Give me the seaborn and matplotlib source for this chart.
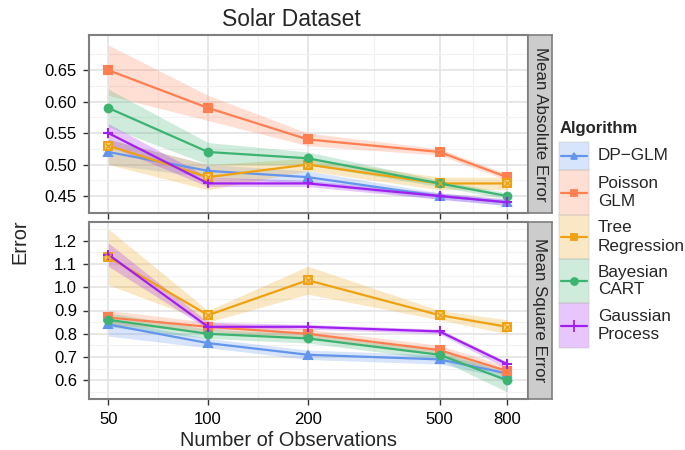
import numpy as np
import pandas as pd
import seaborn as sns
import matplotlib.pyplot as plt
from matplotlib.patches import Rectangle
from matplotlib.lines import Line2D
from matplotlib.ticker import FixedLocator, NullFormatter

# Dados
n_obs = [50, 100, 200, 500, 800]
algorithms = ['DP-GLM', 'Poisson GLM', 'Tree Regression', 'Bayesian CART', 'Gaussian Process']
legend_labels = ['DP\u2212GLM', 'Poisson\nGLM', 'Tree\nRegression', 'Bayesian\nCART', 'Gaussian\nProcess']
colors = ['#6495ED', '#FF7F50', '#EEA111', '#3CB371', '#A020F0']
markers = ['^', 's', 's', 'o', '+']

# Mean Absolute Error
mae_dp = [0.52, 0.49, 0.48, 0.45, 0.44]
mae_pois = [0.65, 0.59, 0.54, 0.52, 0.48]
mae_tree = [0.53, 0.48, 0.50, 0.47, 0.47]
mae_cart = [0.59, 0.52, 0.51, 0.47, 0.45]
mae_gp = [0.55, 0.47, 0.47, 0.45, 0.44]

mae_dp_lo = [0.50, 0.48, 0.47, 0.445, 0.435]
mae_dp_hi = [0.54, 0.50, 0.49, 0.455, 0.445]
mae_pois_lo = [0.61, 0.57, 0.53, 0.515, 0.475]
mae_pois_hi = [0.69, 0.61, 0.55, 0.525, 0.485]
mae_tree_lo = [0.50, 0.46, 0.49, 0.46, 0.46]
mae_tree_hi = [0.54, 0.50, 0.51, 0.48, 0.48]
mae_cart_lo = [0.56, 0.50, 0.50, 0.465, 0.445]
mae_cart_hi = [0.62, 0.535, 0.52, 0.475, 0.455]
mae_gp_lo = [0.53, 0.465, 0.465, 0.445, 0.435]
mae_gp_hi = [0.565, 0.48, 0.475, 0.455, 0.445]

# Mean Square Error
mse_dp = [0.84, 0.76, 0.71, 0.69, 0.63]
mse_pois = [0.87, 0.83, 0.80, 0.73, 0.64]
mse_tree = [1.13, 0.88, 1.03, 0.88, 0.83]
mse_cart = [0.86, 0.80, 0.78, 0.71, 0.60]
mse_gp = [1.14, 0.83, 0.83, 0.81, 0.67]

mse_dp_lo = [0.79, 0.74, 0.69, 0.67, 0.61]
mse_dp_hi = [0.86, 0.78, 0.73, 0.71, 0.65]
mse_pois_lo = [0.84, 0.81, 0.78, 0.71, 0.62]
mse_pois_hi = [0.90, 0.85, 0.82, 0.75, 0.66]
mse_tree_lo = [1.01, 0.85, 0.97, 0.86, 0.80]
mse_tree_hi = [1.25, 0.90, 1.09, 0.90, 0.86]
mse_cart_lo = [0.83, 0.78, 0.76, 0.69, 0.55]
mse_cart_hi = [0.89, 0.82, 0.80, 0.73, 0.63]
mse_gp_lo = [1.09, 0.82, 0.82, 0.80, 0.65]
mse_gp_hi = [1.19, 0.85, 0.84, 0.82, 0.68]

metrics = {
    'Mean Absolute Error': ([mae_dp, mae_pois, mae_tree, mae_cart, mae_gp],
                            [mae_dp_lo, mae_pois_lo, mae_tree_lo, mae_cart_lo, mae_gp_lo],
                            [mae_dp_hi, mae_pois_hi, mae_tree_hi, mae_cart_hi, mae_gp_hi]),
    'Mean Square Error': ([mse_dp, mse_pois, mse_tree, mse_cart, mse_gp],
                          [mse_dp_lo, mse_pois_lo, mse_tree_lo, mse_cart_lo, mse_gp_lo],
                          [mse_dp_hi, mse_pois_hi, mse_tree_hi, mse_cart_hi, mse_gp_hi]),
}

# Montar dataframe longo
rows = []
for metric, (vals, los, his) in metrics.items():
    for alg, v, lo, hi in zip(algorithms, vals, los, his):
        for n, a, b, c in zip(n_obs, v, lo, hi):
            rows.append({'Metric': metric, 'Algorithm': alg, 'N': n, 'Error': a, 'lo': b, 'hi': c})
df = pd.DataFrame(rows)

sns.set_style('white')
plt.rcParams['font.family'] = ['Liberation Sans', 'DejaVu Sans']

W, H = 685, 450
fig = plt.figure(figsize=(W / 100, H / 100), dpi=100)

def box(x0, y0, x1, y1):
    return [x0 / W, 1 - y1 / H, (x1 - x0) / W, (y1 - y0) / H]

panels = [
    ('Mean Absolute Error', box(89, 35, 528, 213), (0.423, 0.706),
     [0.45, 0.50, 0.55, 0.60, 0.65], ['0.45', '0.50', '0.55', '0.60', '0.65'], (35, 213)),
    ('Mean Square Error', box(89, 222, 528, 399), (0.52, 1.28),
     [0.6, 0.7, 0.8, 0.9, 1.0, 1.1, 1.2], ['0.6', '0.7', '0.8', '0.9', '1.0', '1.1', '1.2'], (222, 399)),
]

grid_major = '#E3E3E3'
grid_minor = '#F2F2F2'
border = '#7F7F7F'

axes = []
for metric, rect, ylim, yt, ytl, (py0, py1) in panels:
    ax = fig.add_axes(rect)
    sub = df[df['Metric'] == metric]
    for alg, col, mk in zip(algorithms, colors, markers):
        s = sub[sub['Algorithm'] == alg]
        # faixa de incerteza
        ax.fill_between(s['N'], s['lo'], s['hi'], color=col, alpha=0.25, lw=0, zorder=2)
        if alg == 'Tree Regression':
            # quadrado com X (shape 7 do ggplot)
            sns.lineplot(data=s, x='N', y='Error', color=col, marker='s', markersize=6,
                         mew=1.4, mec=col, mfc='#F6CF80', lw=1.6, ax=ax, zorder=3)
            ax.plot(s['N'], s['Error'], ls='none', marker='x', markersize=4, mew=1,
                    color=col, zorder=4)
        else:
            sns.lineplot(data=s, x='N', y='Error', color=col, marker=mk,
                         markersize=7 if mk == '+' else 5.5,
                         mew=1.5, mec=col, lw=1.6, ax=ax, zorder=3)
    ax.set_xscale('log')
    ax.set_xlim(43.7, 925)
    ax.set_ylim(*ylim)
    ax.xaxis.set_major_locator(FixedLocator(n_obs))
    ax.xaxis.set_minor_locator(FixedLocator([35.4, 70.7, 141.4, 316.2, 632.5]))
    ax.xaxis.set_minor_formatter(NullFormatter())
    ax.set_yticks(yt)
    ax.set_yticklabels(ytl)
    ystep = yt[1] - yt[0]
    ax.yaxis.set_minor_locator(FixedLocator([yt[0] - ystep / 2] + [v + ystep / 2 for v in yt]))
    ax.grid(True, which='major', color=grid_major, lw=1.2, zorder=0)
    ax.grid(True, which='minor', color=grid_minor, lw=0.8, zorder=0)
    ax.set_axisbelow(True)
    ax.tick_params(which='major', direction='out', length=4.3, width=1, color='#333333',
                   labelsize=12, labelcolor='black', left=True, bottom=True)
    ax.tick_params(axis='y', which='major', pad=4.3)
    ax.tick_params(axis='x', which='major', pad=5)
    ax.tick_params(which='minor', length=0)
    for sp in ax.spines.values():
        sp.set_color(border)
        sp.set_linewidth(1.5)
    ax.set_xlabel('')
    ax.set_ylabel('')
    ax.set_xticklabels([str(n) for n in n_obs])
    # faixa lateral (strip)
    sax = fig.add_axes(box(528, py0, 552, py1))
    sax.set_xticks([])
    sax.set_yticks([])
    sax.set_facecolor('#CCCCCC')
    for sp in sax.spines.values():
        sp.set_color(border)
        sp.set_linewidth(1.2)
    sax.text(0.5, 0.5, metric, rotation=-90, ha='center', va='center', fontsize=12.2,
             transform=sax.transAxes)
    axes.append(ax)

axes[0].tick_params(labelbottom=False)

fig.text(291 / W, 1 - 19 / H, 'Solar Dataset', ha='center', va='center', fontsize=16.5)
fig.text(289 / W, 1 - 440 / H, 'Number of Observations', ha='center', va='center', fontsize=14.4)
fig.text(20 / W, 1 - 242 / H, 'Error', ha='center', va='center', rotation=90, fontsize=14.4)

# Legenda manual
lax = fig.add_axes([0, 0, 1, 1], facecolor='none')
lax.set_xlim(0, W)
lax.set_ylim(H, 0)
lax.axis('off')
lax.text(560, 129, 'Algorithm', fontsize=12, fontweight='bold', va='center', ha='left')
key_bounds = [(142, 170), (170, 215), (215, 259), (259, 303), (303, 348)]
for (y0, y1), lab, col, mk in zip(key_bounds, legend_labels, colors, markers):
    lax.add_patch(Rectangle((559, y0), 30, y1 - y0, facecolor=col, alpha=0.25,
                            edgecolor='#BBBBBB', lw=1.2))
    ym = (y0 + y1) / 2
    lax.add_line(Line2D([561, 587], [ym, ym], color=col, lw=1.6))
    lax.plot([574], [ym], marker=mk, color=col, markersize=8 if mk == '+' else 5, mew=1.3)
    lax.text(598, ym, lab, fontsize=12.3, va='center', ha='left', linespacing=1.25)

fig.savefig('out.png', dpi=100)
